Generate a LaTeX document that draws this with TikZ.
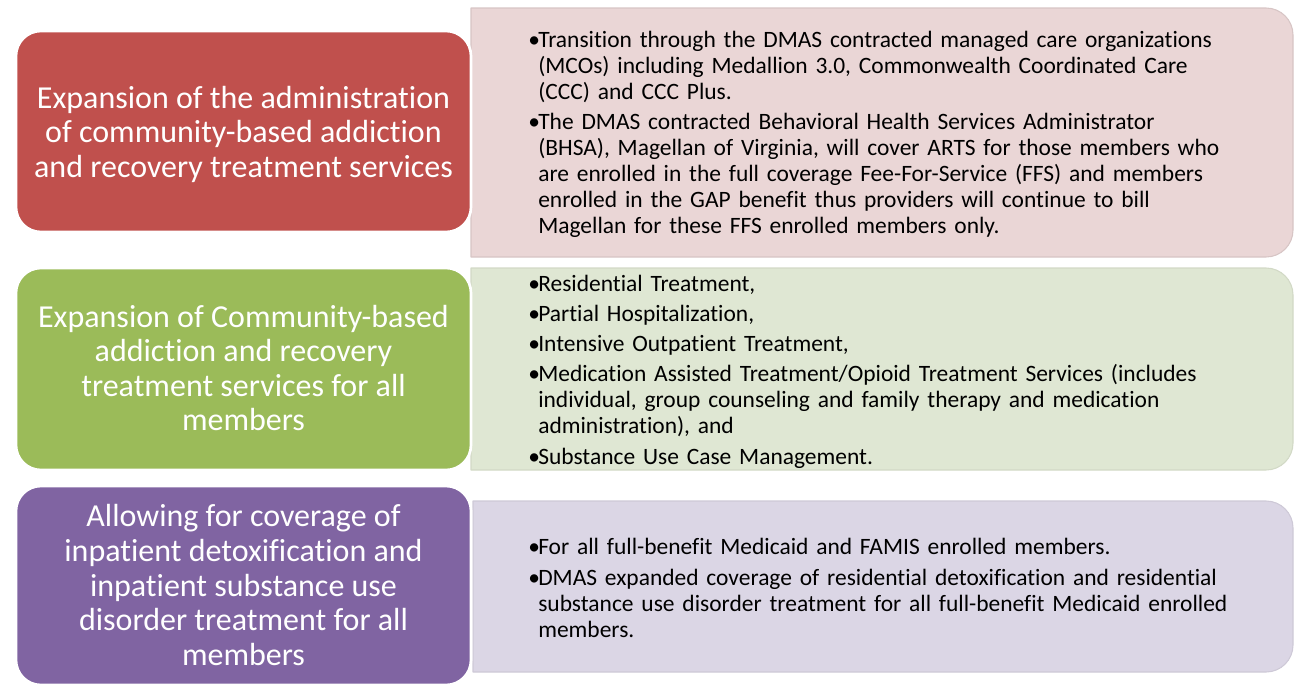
\documentclass[tikz,border=0pt]{standalone}
\usepackage{fontspec}
\setmainfont{Carlito}[Ligatures=NoCommon]
\newcommand\itm[1]{\par\hangindent=7.5pt\hangafter=1\noindent\makebox[7.5pt][l]{\textbullet}#1\par}

\begin{document}
\begin{tikzpicture}[x=0.75pt, y=-0.75pt, line join=round,
    card/.style={draw=white, line width=2pt, rounded corners=18.75pt},
    tab/.style n args={4}{insert path={(#1,#2) -- (#3-27,#2)
      arc[start angle=270, end angle=360, radius=27] -- (#3,#4-27)
      arc[start angle=0, end angle=90, radius=27] -- (#1,#4) -- cycle}},
    head/.style={text=white, align=center, inner sep=0pt,
      font=\fontsize{24}{25.9}\selectfont},
    items/.style={anchor=west, inner sep=0pt, text width=560pt,
      font=\fontsize{17.6}{19.5}\selectfont\setlength{\parskip}{3.2pt}}]
  \definecolor{redhead}{HTML}{C0504D}
  \definecolor{greenhead}{HTML}{9BBB59}
  \definecolor{purplehead}{HTML}{8064A2}
  \definecolor{redtab}{RGB}{234,214,214}
  \definecolor{greentab}{RGB}{223,231,211}
  \definecolor{purpletab}{RGB}{219,214,229}
  \useasboundingbox (0,0) rectangle (1294,686);

  % right-hand panels first, the coloured cards sit on top of them
  \draw[draw=redtab!92!black, line width=0.8pt, fill=redtab, tab={471}{8}{1293}{257}];
  \draw[draw=greentab!94!black, line width=0.8pt, fill=greentab, tab={471}{268}{1293}{470}];
  \draw[draw=purpletab!94!black, line width=0.8pt, fill=purpletab, tab={473}{501}{1293}{672}];

  \draw[card, fill=redhead] (16,31) rectangle (471,232);
  \draw[card, fill=greenhead] (16,268) rectangle (471,470);
  \draw[card, fill=purplehead] (16,486) rectangle (471,685);

  \node[head] (admin) at (243.5,134) {Expansion of the administration\\
    of community-based addiction\\ and recovery treatment services};
  \node[head] (community) at (243.5,368) {Expansion of Community-based\\
    addiction and recovery\\ treatment services for all\\ members};
  \node[head] (inpatient) at (243.5,585) {Allowing for coverage of\\
    inpatient detoxification and\\ inpatient substance use\\
    disorder treatment for all\\ members};

  \node[items] (mco) at (528,127.5) {%
    \itm{Transition through the DMAS contracted managed care organizations\newline
      (MCOs) including Medallion 3.0, Commonwealth Coordinated Care\newline
      (CCC) and CCC Plus.}
    \itm{The DMAS contracted Behavioral Health Services Administrator\newline
      (BHSA), Magellan of Virginia, will cover ARTS for those members who\newline
      are enrolled in the full coverage Fee-For-Service (FFS) and members\newline
      enrolled in the GAP benefit thus providers will continue to bill\newline
      Magellan for these FFS enrolled members only.}};
  \node[items] (services) at (528,364.5) {%
    \itm{Residential Treatment,}
    \itm{Partial Hospitalization,}
    \itm{Intensive Outpatient Treatment,}
    \itm{Medication Assisted Treatment/Opioid Treatment Services (includes\newline
      individual, group counseling and family therapy and medication\newline
      administration), and}
    \itm{Substance Use Case Management.}};
  \node[items] (detox) at (528,581) {%
    \itm{For all full-benefit Medicaid and FAMIS enrolled members.}
    \itm{DMAS expanded coverage of residential detoxification and residential\newline
      substance use disorder treatment for all full-benefit Medicaid enrolled\newline
      members.}};
\end{tikzpicture}
\end{document}
